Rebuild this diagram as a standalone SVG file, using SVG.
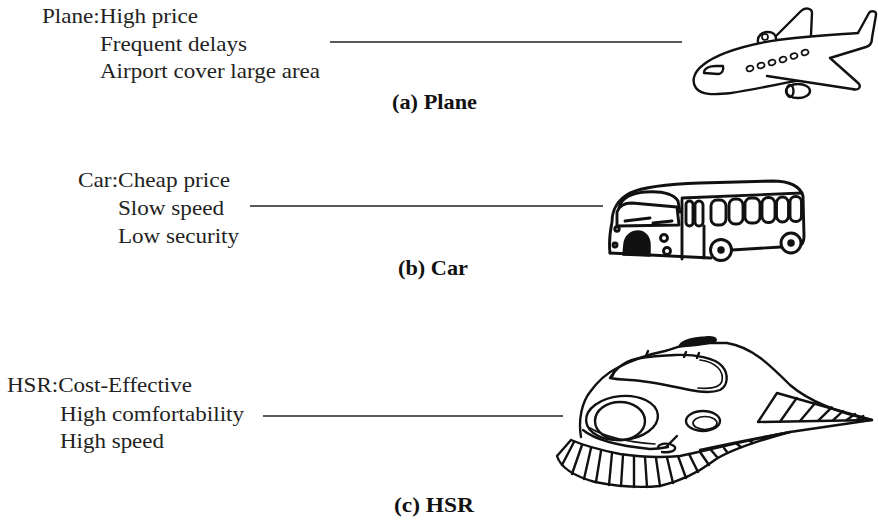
<svg xmlns="http://www.w3.org/2000/svg" width="878" height="523" viewBox="0 0 878 523">
  <style>
    .t { font-family: "Liberation Serif", "Times New Roman", serif; font-size: 22px; fill: #222; }
    .cap { font-family: "Liberation Serif", "Times New Roman", serif; font-size: 21px; font-weight: bold; fill: #111; }
    .link { stroke: #222; stroke-width: 1.4; fill: none; }
    .ink { stroke: #111; stroke-width: 2.4; fill: none; stroke-linecap: round; stroke-linejoin: round; }
    .inkw { stroke: #111; stroke-width: 2.4; fill: #fff; stroke-linecap: round; stroke-linejoin: round; }
    .thin { stroke: #111; stroke-width: 1.7; fill: none; stroke-linecap: round; stroke-linejoin: round; }
    .solid { fill: #111; stroke: #111; stroke-width: 1.5; stroke-linejoin: round; }
    #car .ink, #car .inkw { stroke-width: 2.9; }
  </style>
  <rect width="878" height="523" fill="#fff"/>

  <!-- connectors from each list of attributes to its vehicle -->
  <g id="connectors">
    <line class="link" x1="330" y1="42" x2="682" y2="42"/>
    <line class="link" x1="250" y1="206" x2="603" y2="206"/>
    <line class="link" x1="263" y1="416" x2="563" y2="416"/>
  </g>

  <!-- (a) plane -->
  <g id="plane-text">
    <text class="t" x="42" y="23" textLength="156" lengthAdjust="spacingAndGlyphs">Plane:High price</text>
    <text class="t" x="100" y="51" textLength="147" lengthAdjust="spacingAndGlyphs">Frequent delays</text>
    <text class="t" x="100" y="78" textLength="220" lengthAdjust="spacingAndGlyphs">Airport cover large area</text>
  </g>
  <g id="plane">
    <!-- fuselage -->
    <path class="inkw" d="M858 33 C830 35 790 37 765 42 C740 47 715 55 703 65 C694 72 691 81 696 88 C701 95 713 95 731 93 C751 90 775 85 800 80"/>
    <!-- tail fin and rear -->
    <path class="ink" d="M830 58 L866 47 C870 46 872 43 872 38 L876 15 C877 11 871 10 869 13 L858 33"/>
    <!-- lower wing -->
    <path class="inkw" d="M767 76 L852 89 C860 91 862 86 857 82 L830 58"/>
    <!-- upper wing -->
    <path class="ink" d="M773 39 L801 11 C805 7 812 8 812 13 L811 35"/>
    <!-- engines -->
    <path class="inkw" d="M758 42 C757 36 762 32 768 32 C773 32 776 35 776 39"/>
    <ellipse class="thin" cx="765" cy="37" rx="3" ry="3"/>
    <ellipse class="inkw" cx="798" cy="91" rx="12" ry="7"/>
    <ellipse class="ink" cx="790" cy="91" rx="3.5" ry="6"/>
    <!-- cockpit and cabin windows -->
    <path class="ink" d="M704 73 C704 68 710 66 716 66 L723 66 C724 70 722 74 718 74 Z"/>
    <g class="thin">
      <ellipse cx="750" cy="68.5" rx="3.5" ry="2.7" transform="rotate(-15 750 68.5)"/>
      <ellipse cx="761" cy="65.5" rx="3.5" ry="2.7" transform="rotate(-15 761 65.5)"/>
      <ellipse cx="772" cy="62.5" rx="3.5" ry="2.7" transform="rotate(-15 772 62.5)"/>
      <ellipse cx="783" cy="59.5" rx="3.5" ry="2.7" transform="rotate(-15 783 59.5)"/>
      <ellipse cx="794" cy="56" rx="3.5" ry="2.7" transform="rotate(-15 794 56)"/>
      <ellipse cx="805" cy="52.5" rx="3.5" ry="2.7" transform="rotate(-15 805 52.5)"/>
    </g>
  </g>
  <text class="cap" x="392" y="109" textLength="85" lengthAdjust="spacingAndGlyphs">(a) Plane</text>

  <!-- (b) car -->
  <g id="car-text">
    <text class="t" x="78" y="187" textLength="152" lengthAdjust="spacingAndGlyphs">Car:Cheap price</text>
    <text class="t" x="118" y="215" textLength="106" lengthAdjust="spacingAndGlyphs">Slow speed</text>
    <text class="t" x="118" y="243" textLength="121" lengthAdjust="spacingAndGlyphs">Low security</text>
  </g>
  <g id="car">
    <!-- body -->
    <path class="ink" d="M610 253 C609 245 610 232 612 222 C612 210 618 199 630 193 C645 186 670 184 700 183 L772 181 C790 181 800 186 803 196 L804 236 C804 242 802 245 799 246"/>
    <path class="ink" d="M610 253 L711 258 M732 250 L781 247"/>
    <!-- roof cap over windscreen -->
    <path class="ink" d="M619 207 C622 198 632 193 645 192 C660 191 673 193 678 201 L680 212"/>
    <!-- windscreen and wipers -->
    <path class="ink" d="M617 212 C619 206 624 203 632 203 L677 207 L679 225 L617 226 Z"/>
    <path class="ink" d="M625 221 L650 218 M653 223 L672 221"/>
    <!-- front/side partition, belt line, door edge -->
    <path class="ink" d="M682 200 L682 259 M682 198 L802 193 M704 226 L704 258"/>
    <!-- door and side windows -->
    <g class="ink">
      <rect x="686" y="201" width="7" height="25" rx="3.5"/>
      <rect x="695" y="201" width="8" height="25" rx="4"/>
      <rect x="711" y="200" width="15" height="25" rx="6"/>
      <rect x="729" y="199" width="14" height="25" rx="6"/>
      <rect x="745" y="198" width="15" height="25" rx="6"/>
      <rect x="762" y="197.5" width="13" height="25" rx="6"/>
      <rect x="776.5" y="197" width="12" height="25" rx="6"/>
      <rect x="790" y="196.5" width="11.5" height="25" rx="5.5"/>
    </g>
    <!-- grille arch and lamps -->
    <path class="solid" d="M623 255 L624 244 C625 235 632 231 638 231 C645 231 650 237 650 245 L650 256 Z"/>
    <circle class="ink" cx="664" cy="238" r="3.5"/>
    <circle class="ink" cx="667" cy="251" r="3.5"/>
    <circle class="ink" cx="617" cy="229" r="2.2"/>
    <circle class="ink" cx="615" cy="245" r="2"/>
    <!-- wheels -->
    <circle class="inkw" cx="721" cy="250" r="10.5"/>
    <circle class="solid" cx="721" cy="250" r="3"/>
    <circle class="inkw" cx="791" cy="243" r="10"/>
    <circle class="solid" cx="791" cy="243" r="3"/>
  </g>
  <text class="cap" x="398" y="275" textLength="70" lengthAdjust="spacingAndGlyphs">(b) Car</text>

  <!-- (c) high-speed rail -->
  <g id="hsr-text">
    <text class="t" x="7" y="392" textLength="185" lengthAdjust="spacingAndGlyphs">HSR:Cost-Effective</text>
    <text class="t" x="60" y="421" textLength="184" lengthAdjust="spacingAndGlyphs">High comfortability</text>
    <text class="t" x="60" y="448" textLength="104" lengthAdjust="spacingAndGlyphs">High speed</text>
  </g>
  <g id="hsr">
    <!-- body outline -->
    <path class="ink" d="M581 437 C578 420 582 402 590 392 C598 381 607 373 617 368 C632 360 650 354 665 351 C675 348 683 345 692 343 L727 343 C752 347 770 365 790 385 C810 402 840 413 872 420 L790 432 C770 436 745 440 700 450"/>
    <!-- roof hump -->
    <path class="solid" d="M679 347 C680 341 690 338 705 337 C713 336 717 338 716 341 C712 344 695 346 679 347 Z"/>
    <!-- roof knobs -->
    <path class="ink" d="M612 377 L615 370 M646 356 L648 351 M684 357 L686 352 M697 358 L699 353"/>
    <!-- canopy -->
    <path class="ink" d="M610 378 C615 370 622 363 632 360 C645 356 660 356 675 355 C695 354 715 358 722 366 C729 374 728 386 720 390 C712 393 700 392 690 390 C670 386 650 381 630 380 C620 379.5 614 379 610 378 Z"/>
    <path class="thin" d="M700 360 C716 362 724 371 722 381 C720 388 710 389 698 388"/>
    <!-- front window -->
    <ellipse class="ink" cx="622" cy="418" rx="36" ry="22" transform="rotate(-5 622 418)"/>
    <ellipse class="ink" cx="620" cy="421" rx="25" ry="19"/>
    <!-- headlamp -->
    <ellipse class="ink" cx="703" cy="421" rx="17" ry="10"/>
    <ellipse class="thin" cx="705" cy="423" rx="12" ry="6.5"/>
    <!-- chin lines -->
    <path class="ink" d="M583 430 C595 440 620 446 650 449 C658 449 663 448 668 447"/>
    <path class="thin" d="M590 428 C605 437 628 442 655 444"/>
    <path class="ink" d="M658 447 C660 443 670 442 675 447 C676 451 670 453 662 452 M677 436 L666 447"/>
    <!-- side vent -->
    <path class="ink" d="M777 393 L872 420 L758 422 Z"/>
    <path class="ink" d="M780 421.7 L796.7 398 M800 421 L815 403.3 M818.3 420.7 L831.7 407.3 M833 420.4 L843 411 M846.7 420 L855 414 M856.7 419.8 L863.3 416"/>
    <!-- skirt -->
    <path class="ink" d="M571 440 C585 446 600 450 620 454 C640 457 660 458 680 456 C700 452 730 444 790 432 M571 440 L557 456 C560 466 570 475 595 482 C620 487 640 488 660 486 C685 480 700 471 712 462 C725 452 757 441 790 432"/>
    <path class="ink" d="M574 442 L562 465 M582 445 L572 474 M591 448 L584 479 M601 451 L596 482 M612 453 L609 485 M623 455 L621 486 M634 456 L634 487 M645 457 L647 487 M656 458 L660 486 M667 457.5 L673 483 M678 456 L686 478 M689 454 L698 472 M700 452 L709 465 M711 450 L717 457 M724 448 L727 452 M737 444 L741 447 M750 441 L753 443"/>
  </g>
  <text class="cap" x="394" y="512" textLength="80" lengthAdjust="spacingAndGlyphs">(c) HSR</text>
</svg>
